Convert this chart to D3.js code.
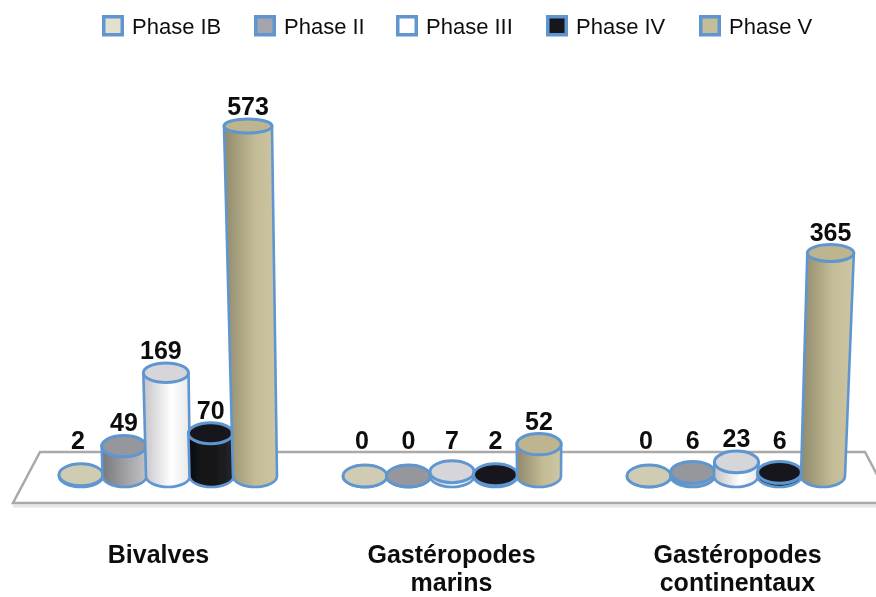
<!DOCTYPE html>
<html><head><meta charset="utf-8">
<script src="https://cdnjs.cloudflare.com/ajax/libs/d3/7.8.5/d3.min.js"></script>
<style>html,body{margin:0;padding:0;background:#fff}svg{display:block}text{font-family:"Liberation Sans",Arial,sans-serif;fill:#111}</style>
</head><body><svg id="c" width="876" height="597"></svg>
<script>
const phases = ["Phase IB","Phase II","Phase III","Phase IV","Phase V"];
const groups = ["Bivalves","Gastéropodes marins","Gastéropodes continentaux"];
const groupLines = [["Bivalves"],["Gastéropodes","marins"],["Gastéropodes","continentaux"]];
const bivalves = [2,49,169,70,573];
const marins = [0,0,7,2,52];
const continentaux = [0,6,23,6,365];
const seriesValues = [bivalves,marins,continentaux];
const lidColors = ["#d0cbb3","#96969d","#d6d6da","#15161a","#bdb58f"];
const swatchColors = ["#e4e0cf","#a4a4ac","#ffffff","#15161a","#c4bd9a"];
const sideStops = [
 ["#bdb9a4","#d0cbb3","#c4c0a8"],
 ["#77777c","#a5a5aa","#c2c2c6"],
 ["#c4c4c8","#ffffff","#e8e8ea"],
 ["#0e0f11","#17181a","#24252a"],
 ["#8f8a6c","#c4bc96","#cdc6a3"]];
const legendX = [102,254,396,546,699];

const svg = d3.select("#c");
const stroke = "#5f96cf";
const defs = svg.append("defs");
defs.append("filter").attr("id","soft").append("feGaussianBlur").attr("stdDeviation",0.5);
sideStops.forEach((s,i)=>{
  const g = defs.append("linearGradient").attr("id","g"+i);
  s.forEach((c,k)=>g.append("stop").attr("offset",[0,0.6,1][k]).attr("stop-color",c));
});

const xGroup = d3.scalePoint().domain(groups).range([168,736]);
const xPhase = d3.scalePoint().domain(phases).range([-87,87]);
const y = d3.scaleLinear().domain([0,573]).range([476,126]);
const ryOf = d3.scaleLinear().domain([476,126]).range([11,7]);
const rxOf = d3.scaleLinear().domain([476,126]).range([22,24]);
const lean = [-0.02,0,0.034];

const root = svg.append("g").attr("filter","url(#soft)");

// platform
root.append("path").attr("d","M13,506H900").attr("stroke","#e6e6e6").attr("stroke-width",3).attr("fill","none");
root.append("path").attr("d","M40,452H865L892,503H13Z").attr("fill","#fff").attr("stroke","#a9a9a9").attr("stroke-width",2.5);

// cylinders
groups.forEach((g,gi)=>{
  seriesValues[gi].forEach((v,pi)=>{
    const bx = xGroup(g)+xPhase(phases[pi]);
    const by = y(0), ty = y(v);
    const tx = bx + lean[gi]*(by-ty);
    const ryB = ryOf(by), ryT = ryOf(ty);
    const rB = rxOf(by), rT = rxOf(ty);
    const node = root.append("g");
    node.append("path")
      .attr("d",`M${bx-rB},${by}A${rB},${ryB} 0 0 0 ${bx+rB},${by}L${tx+rT},${ty}L${tx-rT},${ty}Z`)
      .attr("fill",`url(#g${pi})`).attr("stroke",stroke).attr("stroke-width",2.6).attr("stroke-linejoin","round");
    node.append("ellipse").attr("cx",tx).attr("cy",ty).attr("rx",rT).attr("ry",ryT)
      .attr("fill",lidColors[pi]).attr("stroke",stroke).attr("stroke-width",3);
  });
});

// value labels
const labels = svg.append("g").attr("filter","url(#soft)");
groups.forEach((g,gi)=>{
  seriesValues[gi].forEach((v,pi)=>{
    const bx = xGroup(g)+xPhase(phases[pi]);
    const ty = y(v);
    labels.append("text").attr("x",bx+lean[gi]*(y(0)-ty)+(pi==2&&gi==0?-5:0)-(pi==0?3:0))
      .attr("y",Math.min(449,ty-ryOf(ty)-4)).attr("text-anchor","middle")
      .attr("font-size",25).attr("font-weight","bold").text(v);
  });
});

// category labels
const labelCenter = [158.5,451.5,737.5];
groups.forEach((g,gi)=>{
  groupLines[gi].forEach((t,k)=>{
    labels.append("text").attr("x",labelCenter[gi]).attr("y",563+k*28)
      .attr("text-anchor","middle").attr("font-size",25).attr("font-weight","bold").text(t);
  });
});

// legend
const leg = svg.append("g").attr("filter","url(#soft)");
phases.forEach((p,i)=>{
  leg.append("rect").attr("x",legendX[i]+1.75).attr("y",16.75).attr("width",18.5).attr("height",18)
    .attr("fill",swatchColors[i]).attr("stroke",stroke).attr("stroke-width",3.5);
  leg.append("text").attr("x",legendX[i]+30).attr("y",34).attr("font-size",22).text(p);
});
</script></body></html>
